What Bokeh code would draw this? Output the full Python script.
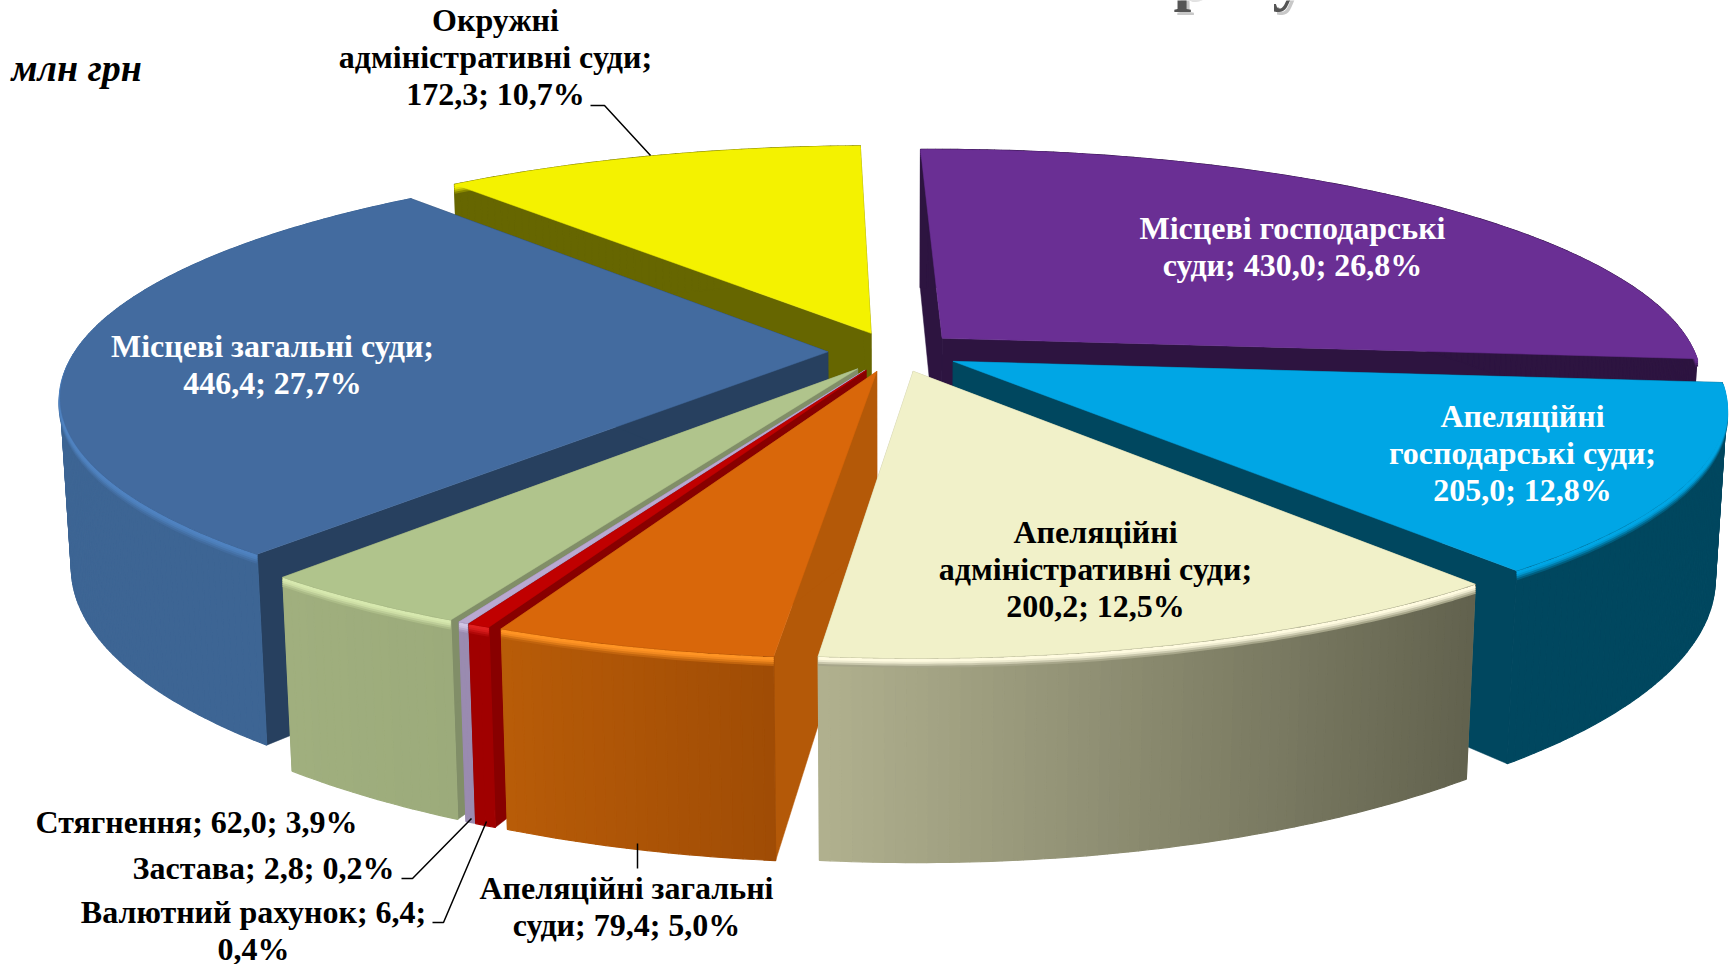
import math
from bokeh.plotting import figure
from bokeh.models import Range1d
from bokeh.embed import file_html
from bokeh.resources import INLINE
from bokeh.core.properties import value

# ---------- data ----------
names = ["Місцеві господарські суди", "Апеляційні господарські суди", "Апеляційні адміністративні суди",
         "Апеляційні загальні суди", "Валютний рахунок", "Застава", "Стягнення",
         "Місцеві загальні суди", "Окружні адміністративні суди"]
values = [430.0, 205.0, 200.2, 79.4, 6.4, 2.8, 62.0, 446.4, 172.3]
percents = [26.8, 12.8, 12.5, 5.0, 0.4, 0.2, 3.9, 27.7, 10.7]

top_colors = ["#6a2f94", "#00a6e5", "#f1f1c9", "#d9670a", "#c00000", "#b9a9d0", "#b0c48c", "#436b9f", "#f4f200"]
wall_left = ["#2d1440", "#00475f", "#b1b18f", "#b85c08", "#a00000", "#9a8bb0", "#a0af7e", "#3d6594", "#666600"]
wall_right = ["#2d1440", "#00475f", "#62624e", "#a04c05", "#a00000", "#9a8bb0", "#9cab7b", "#3d6594", "#666600"]
side_colors = ["#2d1440", "#00475f", "#b1b18f", "#b45908", "#880000", "#8a7a9f", "#818e68", "#27405f", "#666600"]
bevel_colors = ["#6a2f94", "#00a6e5", "#fffbe0", "#ff9424", "#e02020", "#d0c4e4", "#d6e8ae", "#4f82c0", "#f4f200"]

# label text lines: (lines, colour, centre x, first-line centre y)
labels = [
    (["Окружні", "адміністративні суди;", "172,3; 10,7%"], "#000000", 495, 19),
    (["Місцеві господарські", "суди; 430,0; 26,8%"], "#ffffff", 1292, 227),
    (["Апеляційні", "господарські суди;", "205,0; 12,8%"], "#ffffff", 1522, 415),
    (["Апеляційні", "адміністративні суди;", "200,2; 12,5%"], "#000000", 1095, 531),
    (["Місцеві загальні суди;", "446,4; 27,7%"], "#ffffff", 272, 345),
    (["Апеляційні загальні", "суди; 79,4; 5,0%"], "#000000", 626, 887),
    (["Стягнення; 62,0; 3,9%"], "#000000", 196, 821),
    (["Застава; 2,8; 0,2%"], "#000000", 263, 867),
    (["Валютний рахунок; 6,4;", "0,4%"], "#000000", 253, 911),
]
unit_label = "млн грн"
title_fragments = ["р", "у"]

# ---------- pie projection ----------
CX, CY, A, B, P = 893.7, 351.3, 753.0, 227.4, 0.18   # centre, scale, perspective
DEPTH, NADIR = 164.5, 0.013
EXPLODE = 0.088
FIRST_ANGLE = -1.3

def top(X, Y):
    w = 1 / (1 + P * Y)
    return CX + A * X * w, CY - B * Y * w

def bottom(X, Y):
    w = 1 / (1 + P * Y)
    sx, sy = top(X, Y)
    return CX + (sx - CX) * (1 - NADIR * w), sy + DEPTH * w

def mix(c1, c2, t):
    a = [int(c1[i:i + 2], 16) for i in (1, 3, 5)]
    b = [int(c2[i:i + 2], 16) for i in (1, 3, 5)]
    return "#%02x%02x%02x" % tuple(round(u + (v - u) * t) for u, v in zip(a, b))

total = sum(values)
spans = []
ang = FIRST_ANGLE
for v in values:
    spans.append((ang, ang + 360 * v / total))
    ang += 360 * v / total

def geometry(i):
    a0, a1 = spans[i]
    m = math.radians((a0 + a1) / 2)
    ex, ey = EXPLODE * math.sin(m), EXPLODE * math.cos(m)
    n = max(2, int((a1 - a0) * 1.5))
    arc = []
    for k in range(n + 1):
        t = math.radians(a0 + (a1 - a0) * k / n)
        arc.append((ex + math.sin(t), ey + math.cos(t)))
    return (ex, ey), arc

p = figure(width=1730, height=964, x_range=Range1d(0, 1730), y_range=Range1d(964, 0),
           output_backend="svg", toolbar_location=None, min_border=0)
p.axis.visible = False
p.grid.visible = False
p.outline_line_color = None
p.background_fill_color = "#ffffff"
p.styles = {"position": "absolute", "left": "0px", "top": "0px"}

draw_order = [8, 0, 7, 1, 6, 5, 4, 3, 2]
for i in draw_order:
    apex, arc = geometry(i)
    # radial faces
    for rim in (arc[0], arc[-1]):
        pts = [top(*apex), top(*rim), bottom(*rim), bottom(*apex)]
        p.patch([q[0] for q in pts], [q[1] for q in pts], fill_color=side_colors[i],
                line_color=side_colors[i], line_width=0.5)
    # outer wall as strips, shaded left to right on screen
    allx = [top(*q)[0] for q in arc]
    x_min, x_max = min(allx), max(allx)
    for q0, q1 in zip(arc[:-1], arc[1:]):
        pts = [top(*q0), top(*q1), bottom(*q1), bottom(*q0)]
        t = ((top(*q0)[0] + top(*q1)[0]) / 2 - x_min) / max(x_max - x_min, 1)
        c = mix(wall_left[i], wall_right[i], t)
        p.patch([q[0] for q in pts], [q[1] for q in pts], fill_color=c, line_color=c, line_width=1.2)
    # soft bevel at the top of the wall
    wall_mid = mix(wall_left[i], wall_right[i], 0.5)
    ex_x = [top(*q)[0] for q in arc]
    ex_y = [top(*q)[1] for q in arc]
    for off, lw, f in ((8, 3, 0.25), (6, 3, 0.55), (4, 3, 0.85), (2, 3, 1.0)):
        p.line(ex_x, [y + off for y in ex_y], line_color=mix(wall_mid, bevel_colors[i], f), line_width=lw)
    # top face
    pts = [top(*apex)] + [top(*q) for q in arc]
    p.patch([q[0] for q in pts], [q[1] for q in pts], fill_color=top_colors[i],
            line_color=top_colors[i], line_width=0.5)

# leader lines
leaders = [
    [(590, 105), (604, 105), (650, 155)],
    [(401, 878), (412, 878), (471, 818)],
    [(432, 922), (443, 922), (486, 821)],
    [(637, 868), (637, 843)],
]
for pts in leaders:
    p.line([q[0] for q in pts], [q[1] for q in pts], line_color="#000000", line_width=1.5)

# title fragments cut by the top edge of the picture
for ch, tx in zip(title_fragments, (1173, 1272)):
    p.text([tx + 3], [-21], text=[ch], text_color="#c8c8c8", text_font=value("Liberation Serif"),
           text_font_style="bold", text_font_size="64px", text_baseline="middle")
    p.text([tx], [-24], text=[ch], text_color="#555555", text_font=value("Liberation Serif"),
           text_font_style="bold", text_font_size="64px", text_baseline="middle")

LINE = 37.0
for lines, color, x, y in labels:
    for k, line in enumerate(lines):
        p.text([x], [y + k * LINE], text=[line], text_color=color, text_font=value("Liberation Serif"),
               text_font_style="bold", text_font_size="32px", text_align="center", text_baseline="middle")

p.text([11], [67], text=[unit_label], text_color="#000000", text_font=value("Liberation Serif"),
       text_font_style="bold italic", text_font_size="38px", text_align="left", text_baseline="middle")

open("out.html", "w").write(file_html(p, INLINE))
